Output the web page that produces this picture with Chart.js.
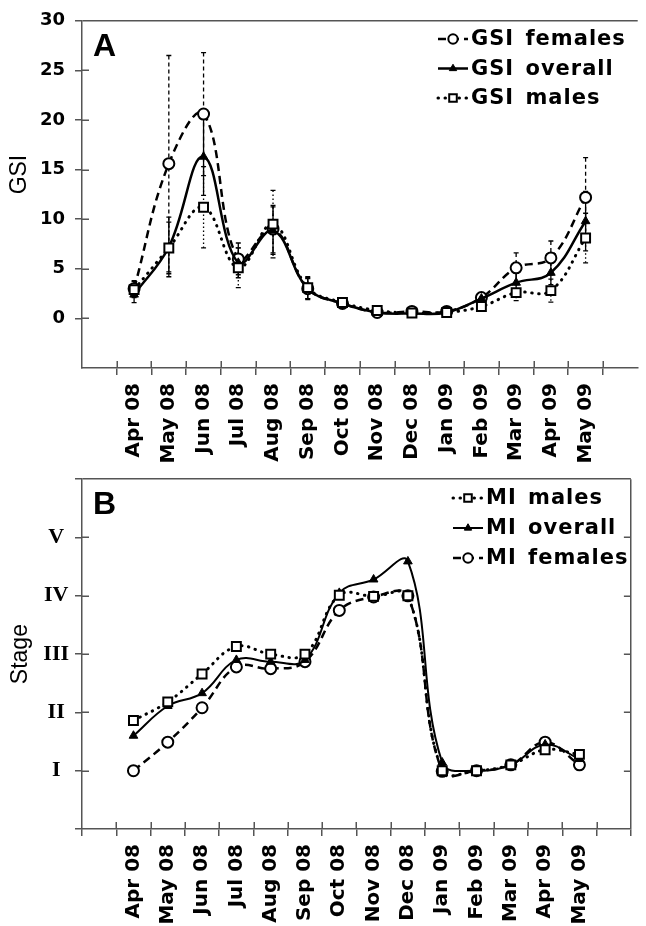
<!DOCTYPE html>
<html>
<head>
<meta charset="utf-8">
<title>GSI and maturity index, Apr 08 - May 09</title>
<script src="https://cdn.jsdelivr.net/npm/chart.js@4.4.1/dist/chart.umd.min.js"></script>
<style>
  html, body { margin: 0; padding: 0; background: #fff; }
  #wrap { position: relative; width: 646px; height: 926px; overflow: hidden; }
  #wrap canvas { position: absolute; left: 0; }
  #chart-a { top: 0; }
  #chart-b { top: 460px; }
</style>
</head>
<body>
<div id="wrap">
  <canvas id="chart-a" width="646" height="470"></canvas>
  <canvas id="chart-b" width="646" height="466"></canvas>
</div>
<script>
// -- data ------------------------------------------------------------------
const months = ["Apr 08", "May 08", "Jun 08", "Jul 08", "Aug 08", "Sep 08", "Oct 08",
  "Nov 08", "Dec 08", "Jan 09", "Feb 09", "Mar 09", "Apr 09", "May 09"];

// panel A: gonadosomatic index (mean and SD)
const gsiTicks = [0, 5, 10, 15, 20, 25, 30];
const gsiFemales = [3.0, 15.6, 20.6, 6.0, 9.0, 3.0, 1.5, 0.6, 0.7, 0.7, 2.1, 5.1, 6.1, 12.2];
const gsiOverall = [2.4, 7.2, 16.3, 5.6, 8.85, 3.0, 1.5, 0.6, 0.5, 0.6, 2.0, 3.6, 4.6, 9.8];
const gsiMales = [2.9, 7.1, 11.2, 5.1, 9.5, 3.1, 1.6, 0.8, 0.55, 0.6, 1.2, 2.6, 2.8, 8.1];
const gsiFemalesSd = [0.8, 10.9, 6.2, 1.6, 2.4, 1.0, 0.3, 0.2, 0.2, 0.2, 0.4, 1.5, 1.7, 4.0];
const gsiOverallSd = [0.8, 3.0, 3.9, 1.5, 2.4, 1.1, 0.3, 0.2, 0.2, 0.2, 0.3, 1.0, 1.2, 3.0];
const gsiMalesSd = [0.8, 2.6, 4.1, 2.0, 3.4, 1.1, 0.3, 0.2, 0.2, 0.2, 0.5, 0.8, 1.15, 2.5];

// panel B: maturity index (stage I..V)
const stageTicks = [0, 1, 2, 3, 4, 5, 6];
const stageLabels = ["", "I", "II", "III", "IV", "V", ""];
const miMales = [1.86, 2.18, 2.66, 3.13, 3.0, 3.0, 4.01, 3.99, 4.0, 1.0, 1.0, 1.1, 1.36, 1.28];
const miOverall = [1.6, 2.11, 2.33, 2.9, 2.87, 2.9, 4.05, 4.28, 4.59, 1.14, 1.0, 1.1, 1.45, 1.2];
const miFemales = [1.0, 1.49, 2.08, 2.78, 2.75, 2.87, 3.75, 3.98, 4.0, 0.99, 1.0, 1.1, 1.49, 1.1];

// -- styles ----------------------------------------------------------------
const AXIS = "#555";
const TICK_FONT = { family: "'DejaVu Sans', Verdana, sans-serif", weight: "bold", size: 20 };
const pts = (vals) => vals.map((v, i) => ({ x: i, y: v }));

const styleFemales = {
  borderColor: "#000", borderWidth: 2.5, borderDash: [8, 5],
  pointStyle: "circle", pointRadius: 5.5, pointBorderWidth: 2,
  pointBackgroundColor: "#fff", pointBorderColor: "#000", errorDash: [4, 3],
};
const styleOverall = {
  borderColor: "#000", borderWidth: 2.5, borderDash: [],
  pointStyle: "triangle", pointRadius: 5, pointBorderWidth: 1,
  pointBackgroundColor: "#000", pointBorderColor: "#000", errorDash: [],
};
const styleMales = {
  borderColor: "#000", borderWidth: 3, borderDash: [0.5, 6.5], borderCapStyle: "round",
  pointStyle: "rect", pointRadius: 6.3, pointBorderWidth: 2,
  pointBackgroundColor: "#fff", pointBorderColor: "#000", errorDash: [1.5, 2.5],
};

// -- plugins ---------------------------------------------------------------
// error bars, drawn under the markers
const errorBars = {
  id: "errorBars",
  beforeDatasetsDraw(chart) {
    const { ctx, scales: { x, y } } = chart;
    for (const ds of chart.data.datasets) {
      if (!ds.errors) continue;
      ctx.save();
      ctx.strokeStyle = "#000";
      ctx.lineWidth = 1.3;
      ds.data.forEach((p, i) => {
        const e = ds.errors[i];
        const px = x.getPixelForValue(p.x);
        const top = y.getPixelForValue(p.y + e);
        const bot = y.getPixelForValue(p.y - e);
        ctx.setLineDash(ds.errorDash);
        ctx.beginPath();
        ctx.moveTo(px, top);
        ctx.lineTo(px, bot);
        ctx.stroke();
        ctx.setLineDash([]);
        ctx.beginPath();
        ctx.moveTo(px - 2.5, top); ctx.lineTo(px + 2.5, top);
        ctx.moveTo(px - 2.5, bot); ctx.lineTo(px + 2.5, bot);
        ctx.stroke();
      });
      ctx.restore();
    }
  },
};

// inner halves of the tick marks (they cross the axis lines)
const innerTicks = {
  id: "innerTicks",
  afterDraw(chart, _args, opts) {
    const { ctx, chartArea: a, scales: { x, y } } = chart;
    const len = 7;
    ctx.save();
    ctx.strokeStyle = AXIS;
    ctx.lineWidth = 1.5;
    ctx.beginPath();
    for (let i = 0; i <= months.length; i++) {
      const px = Math.round(x.getPixelForValue(i - 0.5)) + 0.25;
      ctx.moveTo(px, a.bottom);
      ctx.lineTo(px, a.bottom - len);
    }
    for (const t of y.ticks) {
      if (t.value <= y.min || t.value >= y.max) continue;
      const py = Math.round(y.getPixelForValue(t.value)) + 0.25;
      ctx.moveTo(a.left, py);
      ctx.lineTo(a.left + len, py);
      if (opts.right) {
        ctx.moveTo(a.right, py);
        ctx.lineTo(a.right - len, py);
      }
    }
    ctx.stroke();
    ctx.restore();
  },
};

// panel letter and rotated axis title
const panelText = {
  id: "panelText",
  afterDraw(chart, _args, opts) {
    const { ctx, chartArea: a, scales: { y } } = chart;
    ctx.save();
    ctx.fillStyle = "#000";
    ctx.font = "bold 32px 'Liberation Sans', Arial, sans-serif";
    ctx.fillText(opts.letter, a.left + 11, a.top + 35);
    ctx.translate(opts.titleX, y.getPixelForValue(opts.titleAt));
    ctx.rotate(-Math.PI / 2);
    ctx.font = "23px 'Liberation Sans', Arial, sans-serif";
    ctx.textAlign = "center";
    ctx.textBaseline = "middle";
    ctx.fillText(opts.title, 0, 0);
    ctx.restore();
  },
};

// legend in the top right: line sample with its marker, then the label
const sampleLegend = {
  id: "sampleLegend",
  afterDraw(chart, _args, opts) {
    const { ctx } = chart;
    chart.data.datasets.forEach((ds, i) => {
      const cy = opts.y + i * opts.step;
      ctx.save();
      ctx.strokeStyle = "#000";
      ctx.lineWidth = ds.borderWidth;
      ctx.lineCap = ds.borderCapStyle || "butt";
      ctx.setLineDash(ds.borderDash || []);
      ctx.beginPath();
      ctx.moveTo(opts.x, cy);
      ctx.lineTo(opts.x + 30, cy);
      ctx.stroke();
      ctx.setLineDash([]);
      ctx.lineCap = "butt";
      ctx.fillStyle = ds.pointBackgroundColor;
      ctx.strokeStyle = ds.pointBorderColor;
      ctx.lineWidth = ds.pointBorderWidth;
      Chart.helpers.drawPoint(ctx, {
        pointStyle: ds.pointStyle, radius: ds.pointRadius * 0.85,
        borderWidth: ds.pointBorderWidth, rotation: 0,
      }, opts.x + 15, cy);
      ctx.fillStyle = "#000";
      ctx.font = "bold 21px 'DejaVu Sans', Verdana, sans-serif";
      ctx.letterSpacing = "1px";
      ctx.wordSpacing = "3px";
      ctx.textBaseline = "middle";
      ctx.fillText(ds.label, opts.x + 33, cy + 1);
      ctx.restore();
    });
  },
};

// -- scales ----------------------------------------------------------------
function monthAxis(height, framed) {
  return {
    type: "linear",
    min: -1.5,
    max: 14.5,
    afterBuildTicks: (s) => {
      const idx = months.map((_, i) => i);
      s.ticks = (framed ? [-1, ...idx, months.length] : idx).map((v) => ({ value: v }));
    },
    afterFit: (s) => { s.height = height; },
    border: { color: AXIS, width: 1.5 },
    grid: {
      offset: true,
      drawOnChartArea: framed,
      color: (c) => (c.tick ? "transparent" : AXIS),
      tickColor: AXIS,
      tickLength: 7,
      lineWidth: 1.5,
    },
    ticks: {
      autoSkip: false,
      minRotation: 90,
      maxRotation: 90,
      padding: 8,
      color: "#000",
      font: TICK_FONT,
      callback: (v) => months[v] || "",
    },
  };
}

function valueAxis(min, max, tickValues, extra) {
  return {
    type: "linear",
    min,
    max,
    afterBuildTicks: (s) => { s.ticks = tickValues.map((v) => ({ value: v })); },
    afterFit: (s) => { s.width = 82; },
    border: { color: AXIS, width: 1.5 },
    grid: {
      color: (c) => (c.tick && c.tick.value === max ? AXIS : "transparent"),
      tickColor: AXIS,
      tickLength: 7,
      lineWidth: 1.5,
    },
    ticks: Object.assign({ color: "#000", autoSkip: false }, extra),
  };
}

function baseOptions(scales, plugins, top) {
  return {
    responsive: false,
    animation: false,
    events: [],
    layout: { padding: { top, left: 0, right: 1, bottom: 0 } },
    elements: { line: { tension: 0.4, fill: false } },
    scales,
    plugins: Object.assign({ legend: { display: false }, tooltip: { enabled: false } }, plugins),
  };
}

// -- panel A ---------------------------------------------------------------
new Chart(document.getElementById("chart-a"), {
  type: "line",
  data: {
    datasets: [
      Object.assign({ label: "GSI females", data: pts(gsiFemales), errors: gsiFemalesSd, order: 2 }, styleFemales),
      Object.assign({ label: "GSI overall", data: pts(gsiOverall), errors: gsiOverallSd, order: 1 }, styleOverall),
      Object.assign({ label: "GSI males", data: pts(gsiMales), errors: gsiMalesSd, order: 0 }, styleMales),
    ],
  },
  options: baseOptions(
    {
      x: monthAxis(102, false),
      y: valueAxis(-5, 30, gsiTicks, {
        padding: 10,
        font: { family: "'DejaVu Sans', Verdana, sans-serif", weight: "bold", size: 18 },
      }),
    },
    {
      panelText: { letter: "A", title: "GSI", titleX: 20, titleAt: 14.5 },
      sampleLegend: { x: 438, y: 39, step: 29.5 },
      innerTicks: { right: false },
    },
    16
  ),
  plugins: [errorBars, innerTicks, panelText, sampleLegend],
});

// -- panel B ---------------------------------------------------------------
new Chart(document.getElementById("chart-b"), {
  type: "line",
  data: {
    datasets: [
      Object.assign({ label: "MI males", data: pts(miMales) }, styleMales),
      Object.assign({ label: "MI overall", data: pts(miOverall) }, styleOverall, { borderWidth: 2 }),
      Object.assign({ label: "MI females", data: pts(miFemales) }, styleFemales),
    ],
  },
  options: baseOptions(
    {
      x: monthAxis(97, true),
      y: valueAxis(0, 6, stageTicks, {
        padding: 6,
        crossAlign: "center",
        font: { family: "'Liberation Serif', 'Times New Roman', serif", weight: "bold", size: 22 },
        callback: (v) => stageLabels[v] || "",
      }),
    },
    {
      panelText: { letter: "B", title: "Stage", titleX: 21, titleAt: 3 },
      sampleLegend: { x: 453, y: 38, step: 30 },
      innerTicks: { right: true },
    },
    16
  ),
  plugins: [innerTicks, panelText, sampleLegend],
});
</script>
</body>
</html>
